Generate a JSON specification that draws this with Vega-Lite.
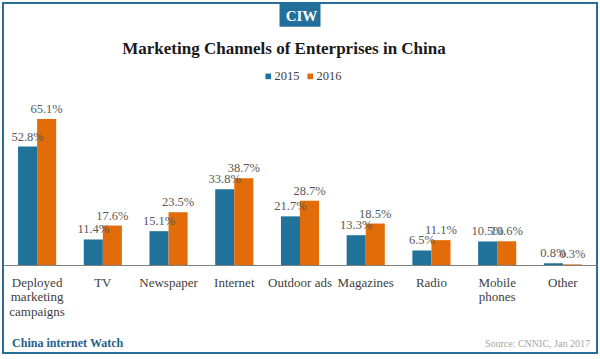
{
  "$schema": "https://vega.github.io/schema/vega-lite/v6.json",
  "width": 594,
  "height": 350,
  "autosize": "none",
  "padding": {"left": 3, "top": 3, "right": 3, "bottom": 6},
  "background": "white",
  "title": {
    "text": "Marketing Channels of Enterprises in China",
    "orient": "top",
    "anchor": "middle",
    "offset": -68,
    "dx": -16,
    "baseline": "alphabetic",
    "font": "Liberation Serif",
    "fontSize": 17,
    "fontWeight": "bold",
    "color": "#1a1a1a"
  },
  "config": {
    "view": {"stroke": "#2a6d98", "strokeWidth": 2},
    "font": "Liberation Serif"
  },
  "layer": [
    {
      "data": {"name": "main", "values": [
        {"channel": "Deployed marketing campaigns", "year": "2015", "value": 52.8},
        {"channel": "Deployed marketing campaigns", "year": "2016", "value": 65.1},
        {"channel": "TV", "year": "2015", "value": 11.4},
        {"channel": "TV", "year": "2016", "value": 17.6},
        {"channel": "Newspaper", "year": "2015", "value": 15.1},
        {"channel": "Newspaper", "year": "2016", "value": 23.5},
        {"channel": "Internet", "year": "2015", "value": 33.8},
        {"channel": "Internet", "year": "2016", "value": 38.7},
        {"channel": "Outdoor ads", "year": "2015", "value": 21.7},
        {"channel": "Outdoor ads", "year": "2016", "value": 28.7},
        {"channel": "Magazines", "year": "2015", "value": 13.3},
        {"channel": "Magazines", "year": "2016", "value": 18.5},
        {"channel": "Radio", "year": "2015", "value": 6.5},
        {"channel": "Radio", "year": "2016", "value": 11.1},
        {"channel": "Mobile phones", "year": "2015", "value": 10.5},
        {"channel": "Mobile phones", "year": "2016", "value": 10.6},
        {"channel": "Other", "year": "2015", "value": 0.8},
        {"channel": "Other", "year": "2016", "value": 0.3}
      ]},
      "layer": [
        {
          "mark": {"type": "bar"},
          "encoding": {
            "x": {
              "field": "channel", "type": "nominal", "sort": null,
              "scale": {"paddingInner": 0.42, "paddingOuter": 0.229},
              "axis": {
                "title": null, "orient": "bottom", "offset": -88,
                "ticks": false, "tickSize": 0, "labelAngle": 0,
                "labelPadding": 11, "labelFont": "Liberation Serif",
                "labelFontSize": 13, "labelColor": "#404040",
                "labelLineHeight": 14.5, "labelOverlap": false,
                "labelExpr": "datum.label == 'Outdoor ads' ? datum.label : split(datum.label, ' ')",
                "domainColor": "#7f7f7f", "domainWidth": 1, "grid": false
              }
            },
            "xOffset": {"field": "year", "type": "nominal", "scale": {"paddingInner": 0, "paddingOuter": 0}},
            "y": {
              "field": "value", "type": "quantitative",
              "scale": {"domain": [-39.2, 116.8], "nice": false, "zero": false},
              "axis": null
            },
            "y2": {"datum": 0},
            "color": {
              "field": "year", "type": "nominal",
              "scale": {"domain": ["2015", "2016"], "range": ["#21729b", "#e26b0a"]},
              "legend": {
                "orient": "none", "legendX": 259, "legendY": 67, "direction": "horizontal",
                "title": null, "symbolType": "square", "symbolSize": 32,
                "symbolStrokeWidth": 0, "labelFont": "Liberation Serif",
                "labelFontSize": 12.5, "labelColor": "#404040", "labelOffset": 0,
                "columnPadding": 4, "padding": 0
              }
            }
          }
        },
        {
          "mark": {
            "type": "text", "baseline": "alphabetic", "dy": -6,
            "font": "Liberation Serif", "fontSize": 12.5, "color": "#595959",
            "text": {"expr": "format(datum.value, '.1f') + '%'"}
          },
          "encoding": {
            "x": {"field": "channel", "type": "nominal", "sort": null},
            "xOffset": {"field": "year", "type": "nominal"},
            "y": {"field": "value", "type": "quantitative"},
            "detail": {"field": "year"}
          }
        }
      ]
    },
    {
      "data": {"values": [{"box": "CIW"}]},
      "layer": [
        {
          "mark": {"type": "point", "filled": true, "opacity": 1, "color": "#236f9c", "shape": "M-1,-0.56H1V0.56H-1Z", "size": 1681},
          "encoding": {"x": {"datum": "Outdoor ads"}, "y": {"datum": 111.3}}
        },
        {
          "mark": {"type": "text", "text": "CIW", "baseline": "middle", "dx": 1.5, "dy": 1, "font": "Liberation Serif", "fontWeight": "bold", "fontSize": 15, "color": "white"},
          "encoding": {"x": {"datum": "Outdoor ads"}, "y": {"datum": 111.3}}
        },
        {
          "mark": {"type": "text", "text": "China internet Watch", "align": "left", "baseline": "alphabetic", "dx": -25, "font": "Liberation Serif", "fontWeight": "bold", "fontSize": 12, "color": "#1f5f8b"},
          "encoding": {"x": {"datum": "Deployed marketing campaigns"}, "y": {"datum": -36.6}}
        },
        {
          "mark": {"type": "text", "text": "Source: CNNIC, Jan 2017", "align": "right", "baseline": "alphabetic", "dx": 27, "font": "Liberation Serif", "fontSize": 10, "color": "#a6a6a6"},
          "encoding": {"x": {"datum": "Other"}, "y": {"datum": -36.6}}
        }
      ]
    }
  ]
}
